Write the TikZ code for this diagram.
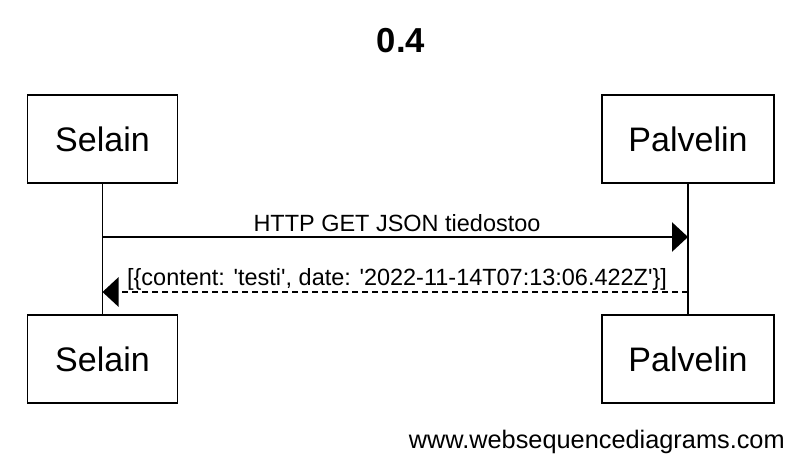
\documentclass[tikz,border=0pt]{standalone}
\usepackage{fontspec}
\setmainfont{Liberation Sans}
\usetikzlibrary{arrows.meta}

\newcommand{\sq}{\textquotesingle}

\begin{document}
\begin{tikzpicture}[x=0.75pt,y=0.75pt,yscale=-1,xscale=1,
  actor/.style={draw,line width=1.1pt,inner sep=0pt,minimum height=66pt,font=\fontsize{25.5}{30}\selectfont},
  lifeline/.style={line width=1.1pt},
  msg/.style={line width=1.1pt,-{Triangle[length=12pt,width=22pt]}},
  reply/.style={msg,dash pattern=on 4.5pt off 3pt},
  msglabel/.style={anchor=base,inner sep=0pt,font=\fontsize{17.6}{21}\selectfont}]
\useasboundingbox (0,0) rectangle (800,464);

% Title
\node (title) [anchor=base,inner sep=0pt,font=\bfseries\fontsize{26}{30}\selectfont] at (401,52) {0.4};

% Participants
\node (selainTop) [actor,minimum width=112.5pt] at (102.5,139) {Selain};
\node (palvelinTop) [actor,minimum width=129pt] at (688,139) {Palvelin};
\node (selainBot) [actor,minimum width=112.5pt] at (102.5,359) {Selain};
\node (palvelinBot) [actor,minimum width=129pt] at (688,359) {Palvelin};

% Lifelines
\draw [lifeline] (selainTop) -- (selainBot);
\draw [lifeline] (palvelinTop) -- (palvelinBot);

% Messages
\coordinate (getY) at (0,237);
\coordinate (replyY) at (0,292);
\draw [msg] (selainTop |- getY) -- (palvelinTop |- getY);
\draw [reply] (palvelinTop |- replyY) -- (selainTop |- replyY);

% Text Node
\node (getLabel) [msglabel] at (397,231) {HTTP GET JSON tiedostoo};
% Text Node
\node (replyLabel) [msglabel] at (397,285) {[\{content: \sq{}testi\sq{}, date: \sq{}2022-11-14T07:13:06.422Z\sq{}\}]};

% Watermark
\node (wsd) [anchor=base east,inner sep=0pt,font=\fontsize{19}{23}\selectfont] at (785,448) {www.websequencediagrams.com};

\end{tikzpicture}
\end{document}
